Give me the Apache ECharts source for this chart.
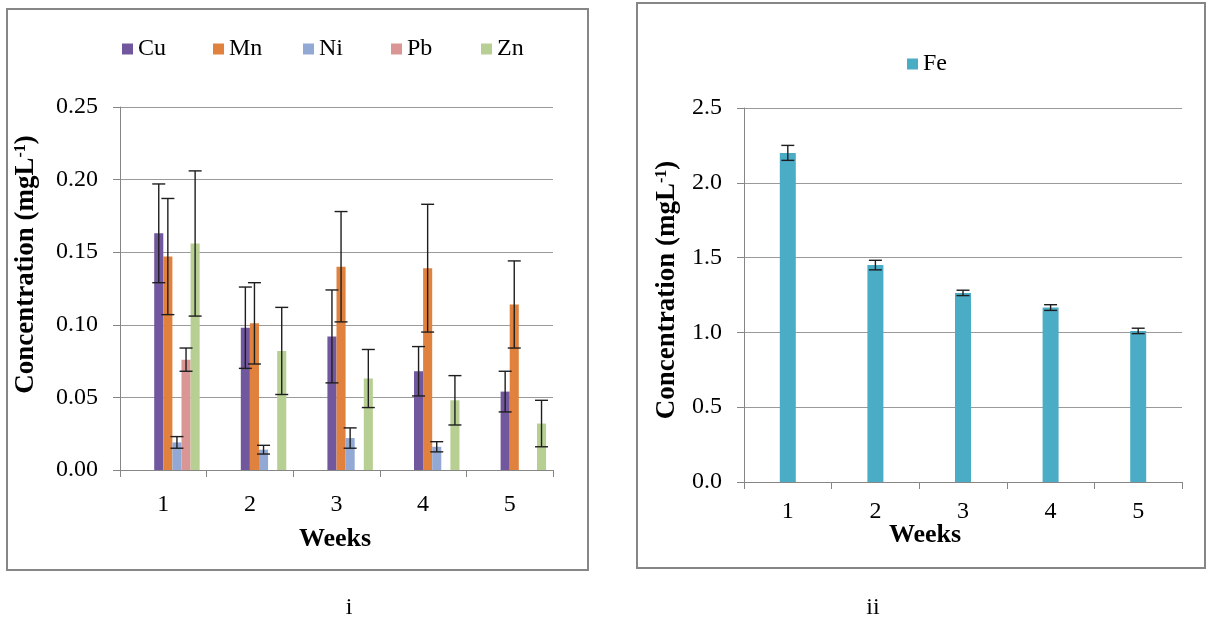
<!DOCTYPE html>
<html>
<head>
<meta charset="utf-8">
<script src="https://cdn.jsdelivr.net/npm/echarts@6/dist/echarts.min.js"></script>
<style>
  html, body { margin: 0; padding: 0; background: #fff; }
  #chart { width: 1209px; height: 626px; }
</style>
</head>
<body>
<div id="chart"></div>
<script>
// weeks on both x axes
var weeks = ['1', '2', '3', '4', '5'];

// panel i: means and error (+/-) per week, '-' = no bar
var metalNames = ['Cu', 'Mn', 'Ni', 'Pb', 'Zn'];
var cuVals = [0.163, 0.098, 0.092, 0.068, 0.054];
var cuErr  = [0.034, 0.028, 0.032, 0.017, 0.014];
var mnVals = [0.147, 0.101, 0.140, 0.139, 0.114];
var mnErr  = [0.040, 0.028, 0.038, 0.044, 0.030];
var niVals = [0.019, 0.014, 0.022, 0.016, '-'];
var niErr  = [0.004, 0.003, 0.007, 0.0035, 0];
var pbVals = [0.076, '-', '-', '-', '-'];
var pbErr  = [0.008, 0, 0, 0, 0];
var znVals = [0.156, 0.082, 0.063, 0.048, 0.032];
var znErr  = [0.050, 0.030, 0.020, 0.017, 0.016];

// panel ii
var feVals = [2.20, 1.45, 1.264, 1.166, 1.01];
var feErr  = [0.05, 0.032, 0.018, 0.019, 0.018];

var metalVals = [cuVals, mnVals, niVals, pbVals, znVals];
var metalErrs = [cuErr, mnErr, niErr, pbErr, znErr];
var metalColors = ['#71589e', '#e0823d', '#93a9d5', '#d99694', '#b8cf94'];

var FONT = '"Liberation Serif", "Times New Roman", serif';
var AXIS_GREY = '#868686';

// the original sheet left 3 empty slots before Cu in every week
var emptySlots = 3;
var slotCount = emptySlots + metalNames.length;
var catGap = 0.16;

function errRenderer(nSlots, fill) {
    return function (params, api) {
        var x = api.value(0), v = api.value(1), e = api.value(2), slot = api.value(3);
        var base = api.coord([x, v]);
        var band = api.size([1, 0])[0];
        var bw = band * fill / nSlots;
        var cx = base[0] + (slot - (nSlots - 1) / 2) * bw;
        var top = api.coord([x, v + e])[1];
        var bot = api.coord([x, v - e])[1];
        var hw = 6.5;
        var st = { stroke: '#1e1e1e', lineWidth: 1.4 };
        return {
            type: 'group',
            children: [
                { type: 'line', shape: { x1: cx, y1: top, x2: cx, y2: bot }, style: st },
                { type: 'line', shape: { x1: cx - hw, y1: top, x2: cx + hw, y2: top }, style: st },
                { type: 'line', shape: { x1: cx - hw, y1: bot, x2: cx + hw, y2: bot }, style: st }
            ]
        };
    };
}

var series = [];
for (var h = 0; h < emptySlots; h++) {
    series.push({ name: '_empty' + h, type: 'bar', xAxisIndex: 0, yAxisIndex: 0,
        data: ['-', '-', '-', '-', '-'], barGap: '0%', barCategoryGap: (catGap * 100) + '%' });
}
var errData = [];
for (var k = 0; k < metalNames.length; k++) {
    series.push({
        name: metalNames[k], type: 'bar', xAxisIndex: 0, yAxisIndex: 0,
        data: metalVals[k], itemStyle: { color: metalColors[k] },
        barGap: '0%', barCategoryGap: (catGap * 100) + '%'
    });
    for (var i = 0; i < weeks.length; i++) {
        if (typeof metalVals[k][i] === 'number' && metalErrs[k][i] > 0) {
            errData.push([i, metalVals[k][i], metalErrs[k][i], emptySlots + k]);
        }
    }
}
series.push({ type: 'custom', xAxisIndex: 0, yAxisIndex: 0, z: 5,
    renderItem: errRenderer(slotCount, 1 - catGap), data: errData, silent: true });

var feErrData = [];
for (var j = 0; j < weeks.length; j++) feErrData.push([j, feVals[j], feErr[j], 0]);
series.push({ name: 'Fe', type: 'bar', xAxisIndex: 1, yAxisIndex: 1,
    data: feVals, barWidth: 16, itemStyle: { color: '#4bacc6' } });
series.push({ type: 'custom', xAxisIndex: 1, yAxisIndex: 1, z: 5,
    renderItem: errRenderer(1, 1), data: feErrData, silent: true });

var nameRich = {
    a: { fontFamily: FONT, fontWeight: 'bold', fontSize: 27, color: '#000' },
    s: { fontFamily: FONT, fontWeight: 'bold', fontSize: 16, color: '#000', verticalAlign: 'top' }
};

function xAxisCfg(grid, margin) {
    return {
        type: 'category', gridIndex: grid, data: weeks,
        axisLine: { lineStyle: { color: AXIS_GREY, width: 1 } },
        axisTick: { show: true, length: 7, interval: 0, lineStyle: { color: AXIS_GREY } },
        axisLabel: { margin: margin, fontFamily: FONT, fontSize: 24, color: '#000' }
    };
}
function yAxisCfg(grid, max, step, digits, gap, pad) {
    return {
        type: 'value', gridIndex: grid, min: 0, max: max, interval: step,
        name: '{a|Concentration (mgL}{s|-1}{a|)}', nameLocation: 'middle', nameGap: gap,
        nameTextStyle: { rich: nameRich, padding: pad },
        axisLine: { show: true, lineStyle: { color: AXIS_GREY, width: 1 } },
        axisTick: { show: true, length: 7, lineStyle: { color: AXIS_GREY } },
        splitLine: { lineStyle: { color: '#9a9a9a', width: 1 } },
        axisLabel: { margin: 22, fontFamily: FONT, fontSize: 24, color: '#000',
            formatter: function (v) { return v.toFixed(digits); } }
    };
}

// one legend box per metal so the fixed pitch of the original is kept
var legendLeft = [117, 208, 298, 386, 476];
var legends = [];
for (var m = 0; m < metalNames.length; m++) {
    legends.push({
        data: [metalNames[m]], left: legendLeft[m], top: 32, itemWidth: 11, itemHeight: 11,
        icon: 'rect', selectedMode: false,
        textStyle: { fontFamily: FONT, fontSize: 24, color: '#000' }
    });
}
legends.push({
    data: ['Fe'], left: 902, top: 47, itemWidth: 11, itemHeight: 11,
    icon: 'rect', selectedMode: false,
    textStyle: { fontFamily: FONT, fontSize: 24, color: '#000' }
});

var chart = echarts.init(document.getElementById('chart'));
chart.setOption({
    animation: false,
    backgroundColor: '#fff',
    grid: [
        { left: 120, top: 107, width: 433, height: 363 },
        { left: 744, top: 108, width: 438, height: 374 }
    ],
    legend: legends,
    xAxis: [xAxisCfg(0, 23), xAxisCfg(1, 18)],
    yAxis: [
        yAxisCfg(0, 0.25, 0.05, 2, 80, [0, 0, 0, 48]),
        yAxisCfg(1, 2.5, 0.5, 1, 63, [0, 0, 0, 10])
    ],
    series: series,
    graphic: [
        { type: 'rect', shape: { x: 7, y: 9, width: 581, height: 561 },
          style: { fill: 'none', stroke: AXIS_GREY, lineWidth: 2 }, silent: true },
        { type: 'rect', shape: { x: 637, y: 3, width: 568, height: 565 },
          style: { fill: 'none', stroke: AXIS_GREY, lineWidth: 2 }, silent: true },
        { type: 'text', x: 335, y: 539, style: { text: 'Weeks', fontFamily: FONT, fontWeight: 'bold',
          fontSize: 26, fill: '#000', textAlign: 'center', textVerticalAlign: 'middle' } },
        { type: 'text', x: 925, y: 535, style: { text: 'Weeks', fontFamily: FONT, fontWeight: 'bold',
          fontSize: 26, fill: '#000', textAlign: 'center', textVerticalAlign: 'middle' } },
        { type: 'text', x: 349, y: 608, style: { text: 'i', fontFamily: FONT,
          fontSize: 24, fill: '#000', textAlign: 'center', textVerticalAlign: 'middle' } },
        { type: 'text', x: 873, y: 608, style: { text: 'ii', fontFamily: FONT,
          fontSize: 24, fill: '#000', textAlign: 'center', textVerticalAlign: 'middle' } }
    ]
});
</script>
</body>
</html>
